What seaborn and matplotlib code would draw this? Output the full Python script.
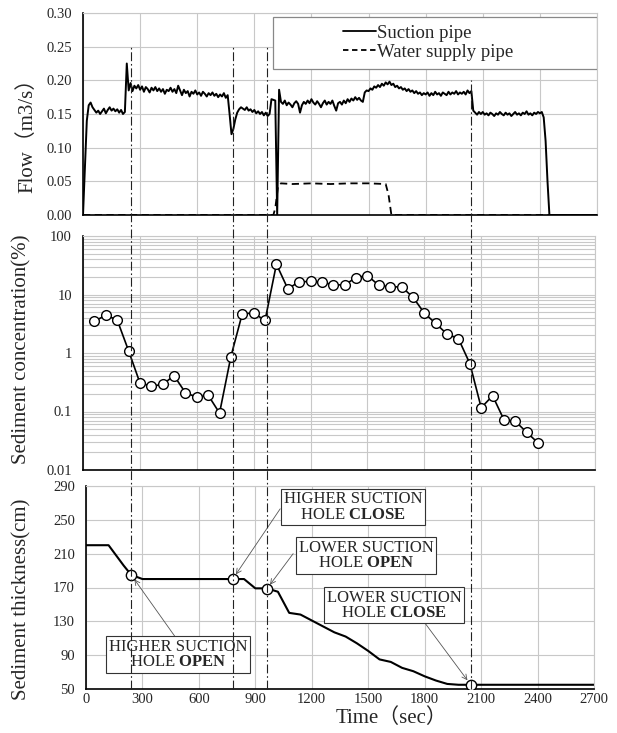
import numpy as np
import pandas as pd
import matplotlib
matplotlib.use("Agg")
import matplotlib.pyplot as plt
import matplotlib.transforms as mtransforms
from matplotlib.lines import Line2D
from matplotlib.patches import Rectangle
from matplotlib.ticker import FixedLocator, LogLocator, NullFormatter
import seaborn as sns

# ---- data ----
# suction pipe flow, one value every 10 s from 0 to 2700 s
flow_time = list(range(0, 2710, 10))
suction_flow = [
    0.000, 0.070, 0.140, 0.163, 0.167, 0.160, 0.156, 0.152, 0.155, 0.150,
    0.154, 0.158, 0.151, 0.156, 0.160, 0.155, 0.158, 0.154, 0.157, 0.152,
    0.156, 0.150, 0.153, 0.225, 0.185, 0.196, 0.184, 0.192, 0.188, 0.193,
    0.186, 0.191, 0.183, 0.190, 0.187, 0.182, 0.189, 0.185, 0.190, 0.184,
    0.188, 0.183, 0.187, 0.180, 0.186, 0.184, 0.189, 0.183, 0.187, 0.181,
    0.192, 0.185, 0.178, 0.186, 0.181, 0.184, 0.176, 0.183, 0.180, 0.185,
    0.179, 0.182, 0.177, 0.183, 0.180, 0.176, 0.181, 0.178, 0.182, 0.177,
    0.180, 0.175, 0.179, 0.176, 0.181, 0.174, 0.178, 0.150, 0.120, 0.128,
    0.142, 0.152, 0.157, 0.160, 0.158, 0.156, 0.160, 0.155, 0.157, 0.153,
    0.156, 0.151, 0.154, 0.150, 0.153, 0.148, 0.152, 0.147, 0.150, 0.172,
    0.171, 0.170, 0.000, 0.186, 0.168, 0.165, 0.170, 0.163, 0.167, 0.164,
    0.160, 0.166, 0.169, 0.165, 0.152, 0.163, 0.168, 0.165, 0.170, 0.166,
    0.172, 0.167, 0.164, 0.169, 0.165, 0.160, 0.166, 0.170, 0.164, 0.168,
    0.165, 0.170, 0.162, 0.155, 0.166, 0.168, 0.164, 0.170, 0.166, 0.172,
    0.168, 0.173, 0.170, 0.175, 0.171, 0.174, 0.170, 0.168, 0.182, 0.185,
    0.184, 0.188, 0.186, 0.191, 0.189, 0.193, 0.190, 0.195, 0.192, 0.197,
    0.194, 0.198, 0.193, 0.195, 0.190, 0.192, 0.188, 0.190, 0.186, 0.188,
    0.184, 0.187, 0.183, 0.185, 0.181, 0.184, 0.180, 0.182, 0.178, 0.181,
    0.179, 0.182, 0.177, 0.181, 0.178, 0.183, 0.179, 0.181, 0.177, 0.182,
    0.180, 0.178, 0.183, 0.179, 0.182, 0.180, 0.184, 0.179, 0.182, 0.180,
    0.183, 0.179, 0.185, 0.181, 0.184, 0.155, 0.152, 0.149, 0.153, 0.150,
    0.153, 0.149, 0.151, 0.148, 0.152, 0.150, 0.147, 0.151, 0.149, 0.153,
    0.150, 0.148, 0.152, 0.149, 0.151, 0.147, 0.150, 0.153, 0.149, 0.151,
    0.148, 0.152, 0.150, 0.154, 0.149, 0.151, 0.148, 0.152, 0.150, 0.153,
    0.151, 0.153, 0.145, 0.110, 0.050, 0.000, 0.000, 0.000, 0.000, 0.000,
    0.000, 0.000, 0.000, 0.000, 0.000, 0.000, 0.000, 0.000, 0.000, 0.000,
    0.000, 0.000, 0.000, 0.000, 0.000, 0.000, 0.000, 0.000, 0.000, 0.000,
    0.000,
]

water_time = [0, 1000, 1010, 1025, 1040, 1100, 1200, 1300, 1400, 1500, 1590, 1605, 1620, 2700]
water_flow = [0.0, 0.0, 0.010, 0.044, 0.047, 0.046, 0.047, 0.046, 0.047, 0.047, 0.046, 0.030, 0.0, 0.0]

conc_time = list(range(60, 2460, 60))
conc_value = [3.5, 4.4, 3.7, 1.1, 0.31, 0.27, 0.29, 0.41, 0.21, 0.175,
              0.19, 0.094, 0.87, 4.7, 4.8, 3.6, 33, 12.5, 16.5, 16.7,
              16.3, 14.6, 14.6, 19.5, 21, 14.4, 13.5, 13.5, 9.0, 4.8,
              3.2, 2.1, 1.75, 0.66, 0.116, 0.186, 0.072, 0.068, 0.044, 0.029]

thick_time = [0, 120, 160, 200, 240, 300, 840, 900, 960, 1020, 1080, 1140, 1200, 1260,
              1320, 1380, 1440, 1500, 1560, 1620, 1680, 1740, 1800, 1860, 1920, 1980, 2040, 2700]
thick_value = [220, 220, 208, 196, 185, 180, 180, 169, 169, 165, 140, 138, 131, 124,
               117, 112, 104, 95, 85, 82, 75, 71, 65, 60, 56, 55, 55, 55]

event_time = [240, 780, 960, 2045]
event_thick = [185, 180, 168, 55]
event_flow_top = [0.25, 0.25, 0.25, 0.20]
event_labels = ["HIGHER SUCTION\nHOLE $\\mathbf{OPEN}$",
                "HIGHER SUCTION\nHOLE $\\mathbf{CLOSE}$",
                "LOWER SUCTION\nHOLE $\\mathbf{OPEN}$",
                "LOWER SUCTION\nHOLE $\\mathbf{CLOSE}$"]
label_pos = [(489, 91), (1420, 265), (1489, 208), (1638, 149)]
arrow_start = [(473, 112), (1032, 263), (1101, 210), (1798, 129)]

x_ticks = list(range(0, 2701, 300))

# ---- style ----
sns.set_style("white")
plt.rcParams["font.family"] = ["Liberation Serif", "Noto Sans CJK JP"]
plt.rcParams["mathtext.fontset"] = "custom"
plt.rcParams["mathtext.rm"] = "Liberation Serif"
plt.rcParams["mathtext.bf"] = "Liberation Serif:bold"

W, H = 617, 733
fig = plt.figure(figsize=(W / 100, H / 100), dpi=100)


def px_axes(left, right, top, bottom):
    return fig.add_axes([left / W, 1 - bottom / H, (right - left) / W, (bottom - top) / H])


ax1 = px_axes(83, 597, 13, 215)
ax2 = px_axes(83, 595, 236, 470)
ax3 = px_axes(86, 594, 486, 689)

grid_kw = dict(color="#c8c8c8", linewidth=0.8)
for ax in (ax1, ax2, ax3):
    ax.set_xlim(0, 2700)
    ax.set_xticks(x_ticks)
    ax.grid(True, axis="both", which="major", **grid_kw)
    ax.set_axisbelow(True)
    for side in ("top", "right"):
        ax.spines[side].set_color("#c8c8c8")
        ax.spines[side].set_linewidth(0.8)
    for side in ("left", "bottom"):
        ax.spines[side].set_color("black")
        ax.spines[side].set_linewidth(1.2)
    ax.tick_params(length=0, labelsize=10.5)
    ax.tick_params(axis="y", pad=8)
    ax.tick_params(axis="x", pad=3)

# ---- top: flow ----
sns.lineplot(x=flow_time, y=suction_flow, ax=ax1, color="black", linewidth=1.4,
             estimator=None, sort=False)
sns.lineplot(x=water_time, y=water_flow, ax=ax1, color="black", linewidth=1.3,
             linestyle=(0, (4, 2.5)), estimator=None, sort=False)
ax1.set_ylim(0, 0.30)
ax1.set_yticks(np.arange(0, 0.301, 0.05))
ax1.set_yticklabels([f"{v:.2f}" for v in np.arange(0, 0.301, 0.05)])
ax1.set_xticklabels([])
ax1.set_xlabel("")
ax1.set_ylabel("")

ax1.add_patch(Rectangle((0.37, 0.723), 0.63, 0.257, transform=ax1.transAxes,
                        facecolor="white", edgecolor="#888888", linewidth=0.9, zorder=3))
handles = [Line2D([], [], color="black", linewidth=1.3),
           Line2D([], [], color="black", linewidth=1.3, linestyle=(0, (3, 2)))]
leg = ax1.legend(handles, ["Suction pipe", "Water supply pipe"], loc="center",
                 bbox_to_anchor=(0.672, 0.852), frameon=False, fontsize=13.5,
                 handlelength=1.75, handletextpad=0.05, labelspacing=0.1,
                 borderpad=0.1)
leg.set_zorder(4)

# ---- middle: sediment concentration ----
sns.lineplot(x=conc_time, y=conc_value, ax=ax2, color="black", linewidth=1.2,
             marker="o", markersize=7, markerfacecolor="white", markeredgecolor="black",
             markeredgewidth=1.0, estimator=None, sort=False)
ax2.set_yscale("log")
ax2.set_ylim(0.01, 100)
ax2.yaxis.set_major_locator(FixedLocator([0.01, 0.1, 1, 10, 100]))
ax2.set_yticklabels(["0.01", "0.1", "1", "10", "100"])
ax2.yaxis.set_minor_locator(LogLocator(base=10, subs=np.arange(2, 10)))
ax2.yaxis.set_minor_formatter(NullFormatter())
ax2.grid(True, axis="y", which="minor", **grid_kw)
ax2.tick_params(axis="y", which="minor", length=0)
ax2.set_xticklabels([])
ax2.set_xlabel("")
ax2.set_ylabel("")

# ---- bottom: sediment thickness ----
sns.lineplot(x=thick_time, y=thick_value, ax=ax3, color="black", linewidth=1.5,
             estimator=None, sort=False)
sns.scatterplot(x=event_time, y=event_thick, ax=ax3, s=55, facecolor="white",
                edgecolor="black", linewidth=1.0, zorder=5)
ax3.set_ylim(50, 290)
ax3.set_yticks(range(50, 291, 40))
ax3.set_xticklabels([str(t) for t in x_ticks])
ax3.set_xlabel("")
ax3.set_ylabel("")

# event lines across all panels
trans = mtransforms.blended_transform_factory(ax3.transData, fig.transFigure)
inv = fig.transFigure.inverted()
y_bot = inv.transform(ax3.transData.transform((0, 50)))[1]
for t, top in zip(event_time, event_flow_top):
    y_top = inv.transform(ax1.transData.transform((0, top)))[1]
    fig.add_artist(Line2D([t, t], [y_bot, y_top], transform=trans, color="#222222",
                          linewidth=0.8, linestyle=(0, (8, 2.5, 1.5, 2.5))))

for lab, pos, start, t, v in zip(event_labels, label_pos, arrow_start, event_time, event_thick):
    ax3.annotate("", xy=(t, v), xytext=start,
                 arrowprops=dict(arrowstyle="->", color="#555555", lw=0.6,
                                 shrinkA=0, shrinkB=4, mutation_scale=9))
    ax3.text(pos[0], pos[1], lab, ha="center", va="center", fontsize=12,
             linespacing=0.95, multialignment="center", zorder=6,
             bbox=dict(boxstyle="square,pad=0.15", facecolor="white",
                       edgecolor="#333333", linewidth=0.8))

# axis labels
fig.text(27 / W, 1 - 130 / H, "Flow（m3/s）", rotation=90, ha="center", va="center", fontsize=15)
fig.text(22 / W, 1 - 349 / H, "Sediment concentration(%)", rotation=90, ha="center",
         va="center", fontsize=15)
fig.text(22 / W, 1 - 599 / H, "Sediment thickness(cm)", rotation=90, ha="center",
         va="center", fontsize=15)
fig.text(391 / W, 1 - 718 / H, "Time（sec）", ha="center", va="center", fontsize=15)

fig.savefig("out.png", dpi=100)
